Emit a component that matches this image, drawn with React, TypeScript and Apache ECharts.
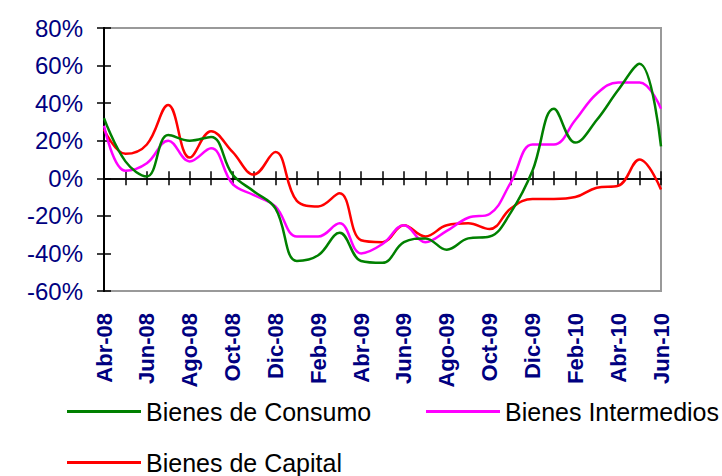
import React, { useEffect, useRef } from "react";
import * as echarts from "echarts";

const months = [
  "Abr-08", "May-08", "Jun-08", "Jul-08", "Ago-08", "Sep-08", "Oct-08", "Nov-08", "Dic-08",
  "Ene-09", "Feb-09", "Mar-09", "Abr-09", "May-09", "Jun-09", "Jul-09", "Ago-09", "Sep-09",
  "Oct-09", "Nov-09", "Dic-09", "Ene-10", "Feb-10", "Mar-10", "Abr-10", "May-10", "Jun-10",
];

const consumo = [32, 9, 1, 23, 20, 22, 2, -7, -16, -44, -41, -29, -44, -45, -34, -32, -38, -32, -31, -18, 4, 37, 19, 31, 47, 61, 17];
const intermedios = [28, 4, 8, 20, 9, 16, -3, -9, -15, -31, -31, -24, -40, -35, -25, -34, -28, -21, -19, -2, 18, 18, 31, 45, 51, 51, 37];
const capital = [26, 13, 18, 39, 11, 25, 14, 2, 14, -12, -15, -8, -33, -34, -25, -31, -25, -24, -27, -16, -11, -11, -10, -5, -4, 10, -6];

const seriesNames = ["Bienes de Consumo", "Bienes Intermedios", "Bienes de Capital"];
const seriesColors = ["#008000", "#FF00FF", "#FF0000"];

const yMin = -60;
const yMax = 80;
const yStep = 20;

export default function App() {
  const ref = useRef<HTMLDivElement>(null);

  useEffect(() => {
    if (!ref.current) return;
    const chart = echarts.init(ref.current, undefined, { renderer: "svg" });
    const font = '"Liberation Sans", Arial, sans-serif';
    const axisLineStyle = { color: "#000", width: 1.5 };
    const baseX = { type: "category", data: months, boundaryGap: false, gridIndex: 0 };
    const baseY = { type: "value", min: yMin, max: yMax, interval: yStep, position: "left", splitLine: { show: false } };
    const legendCommon = {
      icon: "rect",
      itemWidth: 74,
      itemHeight: 3,
      padding: 0,
      orient: "horizontal",
      textStyle: { fontSize: 25, color: "#000", fontFamily: font },
      selectedMode: false,
    };

    chart.setOption({
      animation: false,
      backgroundColor: "#fff",
      grid: {
        left: 104,
        right: 61,
        top: 28,
        bottom: 185,
        show: true,
        borderColor: "#999",
        borderWidth: 2,
        backgroundColor: "transparent",
      },
      xAxis: [
        {
          ...baseX,
          position: "bottom",
          axisLine: { show: true, onZero: true, onZeroAxisIndex: 0, lineStyle: axisLineStyle },
          axisTick: { show: true, interval: 0, inside: true, length: 7, lineStyle: axisLineStyle },
          axisLabel: { show: false },
          splitLine: { show: false },
        },
        {
          ...baseX,
          position: "top",
          axisLine: { show: true, onZero: true, onZeroAxisIndex: 0, lineStyle: axisLineStyle },
          axisTick: { show: true, interval: 0, inside: true, length: 7, lineStyle: axisLineStyle },
          axisLabel: { show: false },
          splitLine: { show: false },
        },
        {
          ...baseX,
          position: "bottom",
          axisLine: { show: false, onZero: false },
          axisTick: { show: false },
          axisLabel: {
            interval: 1,
            rotate: 90,
            margin: 22,
            color: "#000080",
            fontSize: 22,
            fontWeight: "bold",
            fontFamily: font,
          },
          splitLine: { show: false },
        },
      ],
      yAxis: [
        {
          ...baseY,
          axisLine: { show: true, onZero: false, lineStyle: { color: "#000", width: 2 } },
          axisTick: { show: true, length: 7, lineStyle: axisLineStyle },
          axisLabel: { formatter: "{value}%", color: "#000080", fontSize: 24, margin: 21, fontFamily: font },
        },
        {
          ...baseY,
          axisLine: { show: true, onZero: false, lineStyle: { color: "#000", width: 2 } },
          axisTick: { show: true, inside: true, length: 7, lineStyle: axisLineStyle },
          axisLabel: { show: false },
        },
      ],
      legend: [
        { ...legendCommon, data: [seriesNames[0]], left: 67, top: 399 },
        { ...legendCommon, data: [seriesNames[1]], left: 426, top: 399 },
        { ...legendCommon, data: [seriesNames[2]], left: 67, top: 450 },
      ],
      series: [consumo, intermedios, capital].map((values, i) => ({
        name: seriesNames[i],
        type: "line",
        xAxisIndex: 0,
        yAxisIndex: 0,
        data: values,
        smooth: 0.4,
        symbol: "none",
        color: seriesColors[i],
        lineStyle: { color: seriesColors[i], width: 2.5 },
        z: 3 + (2 - i),
      })),
    });

    return () => chart.dispose();
  }, []);

  return (
    <div
      ref={ref}
      style={{ position: "fixed", left: 0, top: 0, width: 722, height: 476 }}
    />
  );
}
